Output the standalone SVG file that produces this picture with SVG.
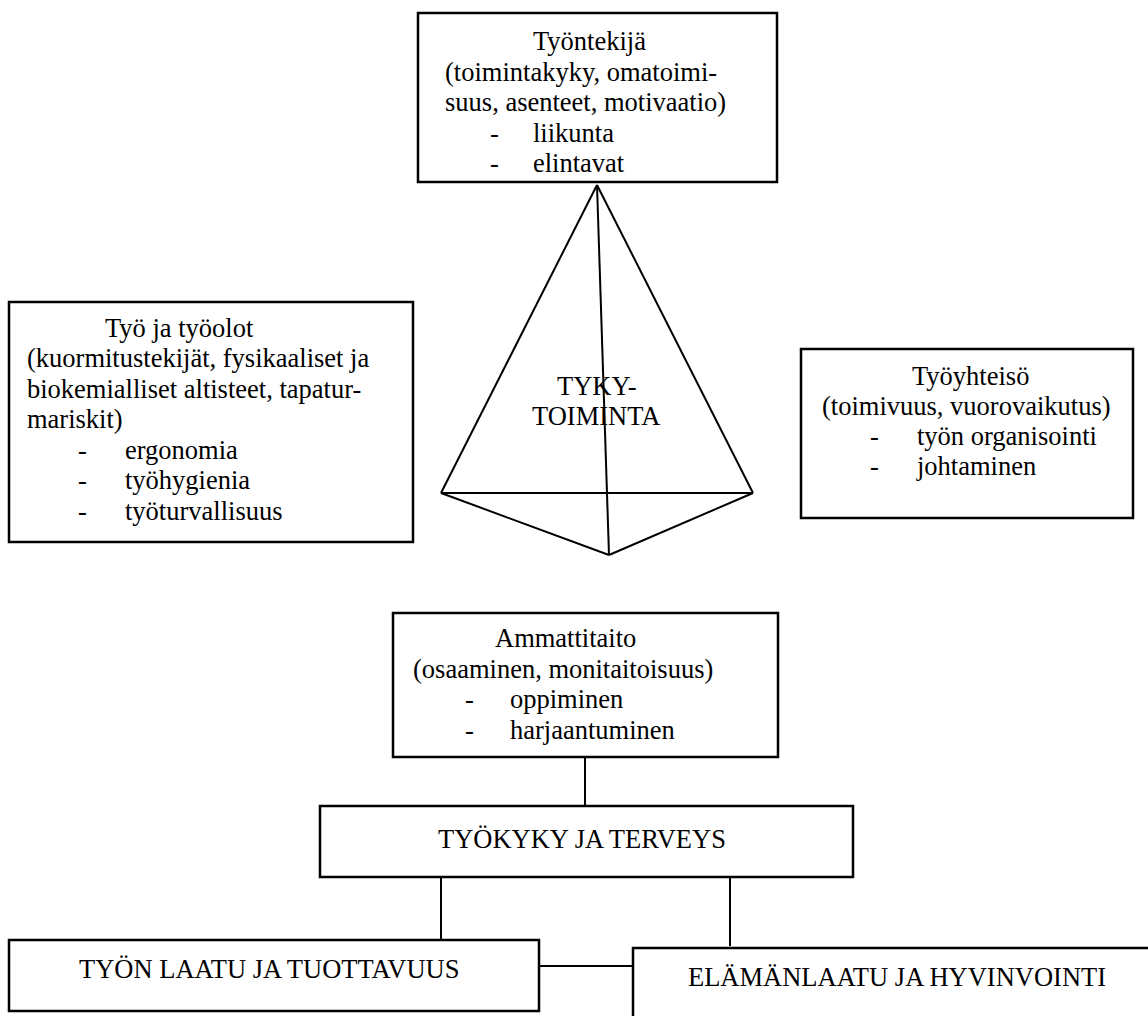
<svg xmlns="http://www.w3.org/2000/svg" width="1148" height="1016" viewBox="0 0 1148 1016">
<style>
rect.box{fill:#fff;stroke:#000;stroke-width:2.5}
text{font-family:"Liberation Serif","Times New Roman",serif;font-size:26.5px;fill:#000}
.ln{stroke:#000;stroke-width:2;fill:none}
</style>
<g id="connectors">
<line class="ln" x1="597" y1="185" x2="441" y2="493"/>
<line class="ln" x1="597" y1="185" x2="753" y2="493"/>
<line class="ln" x1="441" y1="493" x2="753" y2="493"/>
<line class="ln" x1="441" y1="493" x2="609" y2="555"/>
<line class="ln" x1="753" y1="493" x2="609" y2="555"/>
<line class="ln" x1="597" y1="185" x2="609" y2="555"/>
<line class="ln" x1="585" y1="757" x2="585" y2="806"/>
<line class="ln" x1="441" y1="877" x2="441" y2="940"/>
<line class="ln" x1="730" y1="877" x2="730" y2="946"/>
<line class="ln" x1="539" y1="966" x2="633" y2="966"/>
</g>
<g id="tyontekija">
<rect class="box" x="418" y="13" width="359" height="169"/>
<text x="533" y="50">Työntekijä</text>
<text x="445" y="81">(toimintakyky, omatoimi-</text>
<text x="445" y="111">suus, asenteet, motivaatio)</text>
<text x="490" y="142">-</text><text x="533" y="142">liikunta</text>
<text x="490" y="172">-</text><text x="533" y="172">elintavat</text>
</g>
<g id="tyky">
<text x="557" y="395">TYKY-</text>
<text x="532" y="425">TOIMINTA</text>
</g>
<g id="tyo">
<rect class="box" x="9" y="302" width="404" height="240"/>
<text x="105" y="337">Työ ja työolot</text>
<text x="27" y="367">(kuormitustekijät, fysikaaliset ja</text>
<text x="27" y="398">biokemialliset altisteet, tapatur-</text>
<text x="27" y="428">mariskit)</text>
<text x="78" y="459">-</text><text x="125" y="459">ergonomia</text>
<text x="78" y="489">-</text><text x="125" y="489">työhygienia</text>
<text x="78" y="520">-</text><text x="125" y="520">työturvallisuus</text>
</g>
<g id="tyoyhteiso">
<rect class="box" x="801" y="349" width="332" height="169"/>
<text x="912" y="385">Työyhteisö</text>
<text x="822" y="415">(toimivuus, vuorovaikutus)</text>
<text x="870" y="445">-</text><text x="917" y="445">työn organisointi</text>
<text x="870" y="475">-</text><text x="917" y="475">johtaminen</text>
</g>
<g id="ammattitaito">
<rect class="box" x="393" y="613" width="385" height="144"/>
<text x="495" y="647">Ammattitaito</text>
<text x="413" y="678">(osaaminen, monitaitoisuus)</text>
<text x="465" y="708">-</text><text x="510" y="708">oppiminen</text>
<text x="465" y="739">-</text><text x="510" y="739">harjaantuminen</text>
</g>
<g id="tyokyky">
<rect class="box" x="320" y="806" width="533" height="71"/>
<text x="438" y="848">TYÖKYKY JA TERVEYS</text>
</g>
<g id="laatu">
<rect class="box" x="9" y="940" width="530" height="71"/>
<text x="79" y="978">TYÖN LAATU JA TUOTTAVUUS</text>
</g>
<g id="elamanlaatu">
<rect class="box" x="633" y="948" width="520" height="80"/>
<text x="688" y="986">ELÄMÄNLAATU JA HYVINVOINTI</text>
</g>
</svg>
